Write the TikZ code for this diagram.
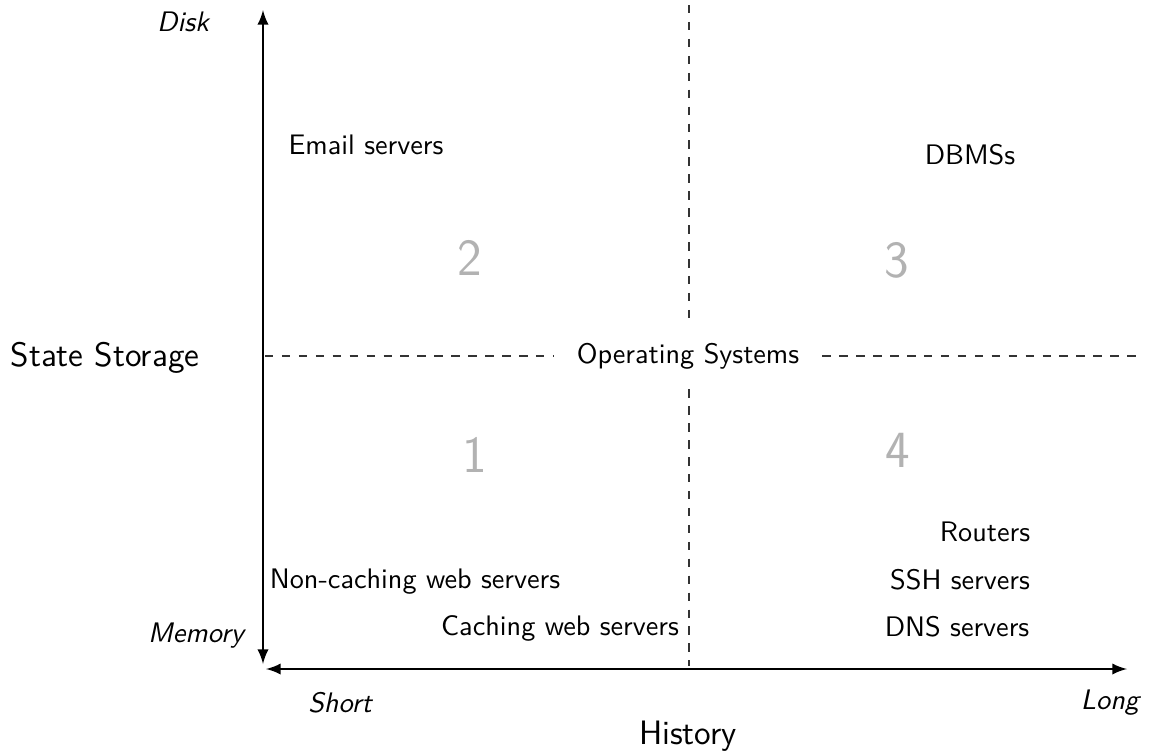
\documentclass[tikz,border=0pt]{standalone}
\usepackage{tikz}
\usetikzlibrary{arrows,positioning}

\begin{document}
\begin{tikzpicture}[x=0.01245cm,y=-0.01245cm,font=\sffamily\normalsize]
\tikzset{
    %Define standard arrow tip
    >=latex,
    %Define style for axis labels
    axislabel/.style={font=\sffamily\large},
    endlabel/.style={font=\sffamily\itshape},
    % Define style for quadrant numbers
    quadnum/.style={font=\sffamily\fontsize{18.5}{22}\selectfont,text=black!30},
    % Define style for entries
    entry/.style={inner sep=1pt},
    % Define arrow style
    pil/.style={<->,thick},
    divide/.style={dashed,black!80}
}
	\path[use as bounding box] (0,0) rectangle (1149,751);

 %axes
	\coordinate (ytop) at (263,10);
	\coordinate (ybot) at (263,664);
	\coordinate (xleft) at (266,669);
	\coordinate (xright) at (1127,669);
	\draw[pil] (ybot) -- (ytop);
	\draw[pil] (xleft) -- (xright);

 %axis labels
	\node[endlabel] (disk) at (183,22) {Disk};
	\node[endlabel] (memory) at (196,636) {Memory};
	\node[axislabel] (storage) at (105,358) {State Storage};
	\node[endlabel] (short) at (340,703) {Short};
	\node[endlabel] (long) at (1110,703) {Long};
	\node[axislabel] (history) at (688,736) {History};

 %dividing lines
	\coordinate (vtop) at (689,5);
	\coordinate (vbot) at (689,666);
	\coordinate (hleft) at (265,356);
	\coordinate (hright) at (1141,356);
	\node[inner xsep=8pt,inner ysep=7pt] (os) at (688,356) {Operating Systems};
	\draw[divide] (vtop) -- (vtop|-os.north);
	\draw[divide] (vbot|-os.south) -- (vbot);
	\draw[divide] (hleft) -- (os.west);
	\draw[divide] (os.east) -- (hright);

 %quadrants
	\node[quadnum] (q1) at (475,455) {1};
	\node[quadnum] (q2) at (470,258) {2};
	\node[quadnum] (q3) at (897,260) {3};
	\node[quadnum] (q4) at (898,450) {4};

 %entries
	\node[entry] (email) at (366,145) {Email servers};
	\node[entry] (dbms) at (970,155) {DBMSs};
	\node[entry] (routers) at (985,532) {Routers};
	\node[entry] (ssh) at (960,580) {SSH servers};
	\node[entry] (dns) at (957,627) {DNS servers};
	\node[entry] (noncache) at (415,582) {Non-caching web servers};
	\node[entry] (cache) at (560,628) {Caching web servers};

\end{tikzpicture}
\end{document}
